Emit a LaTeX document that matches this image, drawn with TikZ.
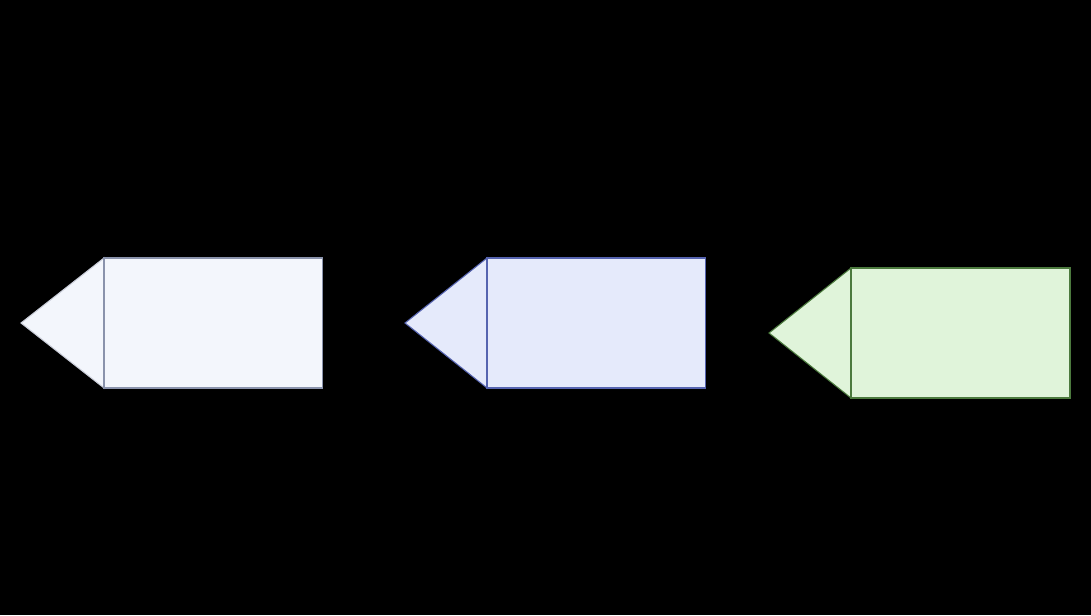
\documentclass[tikz,border=0pt]{standalone}
\usetikzlibrary{positioning}
\definecolor{paleFill}{HTML}{F3F6FC}
\definecolor{paleLine}{HTML}{8A93AC}
\definecolor{paleTip}{HTML}{C9CDD8}
\definecolor{blueFill}{HTML}{E5EAFB}
\definecolor{blueLine}{HTML}{5664B0}
\definecolor{greenFill}{HTML}{E0F4DA}
\definecolor{greenLine}{HTML}{4C7A3E}
\begin{document}
\begin{tikzpicture}[x=0.02cm,y=-0.02cm,
  panel/.style={rectangle, draw, line width=0.6pt, outer sep=0pt, inner sep=0pt,
    minimum width=4.38cm, minimum height=2.6cm, anchor=north west},
  tip/.style={line width=0.6pt, line join=miter}]
  \useasboundingbox (0,0) rectangle (1091,615);
  \fill[black] (0,0) rectangle (1091,615);
  % tips are drawn first, the panels cover their inner edge
  \coordinate (t1) at (21,323);
  \coordinate (t2) at (405,323);
  \coordinate (t3) at (769,333);
  \node[panel, draw=none] (r1) at (104,258) {};
  \node[panel, draw=none] (r2) at (487,258) {};
  \node[panel, draw=none] (r3) at (851,268) {};
  \filldraw[tip, fill=paleFill, draw=paleTip] (r1.north west) -- (t1) -- (r1.south west) -- cycle;
  \filldraw[tip, fill=blueFill, draw=blueLine] (r2.north west) -- (t2) -- (r2.south west) -- cycle;
  \filldraw[tip, fill=greenFill, draw=greenLine] (r3.north west) -- (t3) -- (r3.south west) -- cycle;
  \node[panel, fill=paleFill, draw=paleLine] at (r1.north west) {};
  \node[panel, fill=blueFill, draw=blueLine] at (r2.north west) {};
  \node[panel, fill=greenFill, draw=greenLine] at (r3.north west) {};
\end{tikzpicture}
\end{document}
